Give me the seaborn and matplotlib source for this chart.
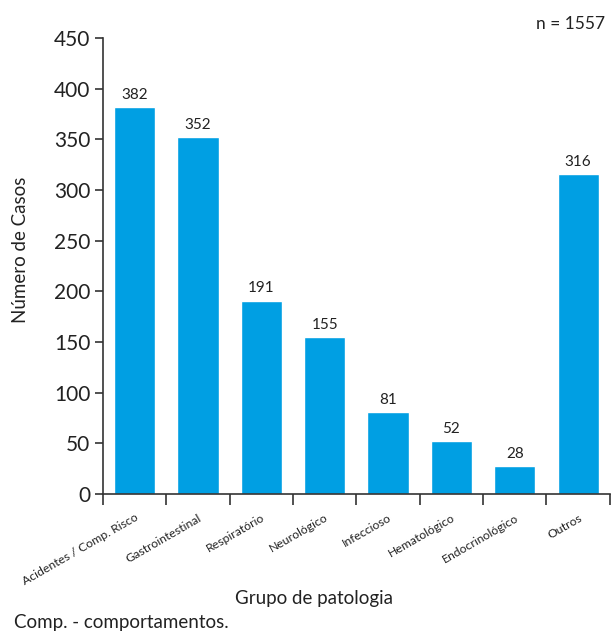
import matplotlib
matplotlib.use("Agg")
import matplotlib.pyplot as plt
import seaborn as sns
import pandas as pd
import numpy as np

categories = ["Acidentes / Comp. Risco", "Gastrointestinal", "Respiratório", "Neurológico",
              "Infeccioso", "Hematológico", "Endocrinológico", "Outros"]
cases = [382, 352, 191, 155, 81, 52, 28, 316]
y_ticks = [0, 50, 100, 150, 200, 250, 300, 350, 400, 450]

sns.set_style("white")
plt.rcParams["font.family"] = ["Lato", "DejaVu Sans"]

df = pd.DataFrame({"grupo": categories, "casos": cases})

fig = plt.figure(figsize=(6.16, 6.35), dpi=100)
ax = fig.add_axes([0.167, 0.222, 0.823, 0.718])

bar_color = "#009FE3"
sns.barplot(data=df, x="grupo", y="casos", color=bar_color, saturation=1,
            width=0.65, ax=ax)

for i, v in enumerate(cases):
    ax.text(i, v + 5, str(v), ha="center", va="bottom", fontsize=11, color="#222222")

ax.set_ylim(0, 450)
ax.set_xlim(-0.5, len(categories) - 0.5)
ax.set_yticks(y_ticks)
ax.tick_params(axis="y", labelsize=15, length=6, width=1.2, color="#333333",
               labelcolor="#222222", direction="out", left=True, pad=3)

# category labels at bar centres, tick marks at the boundaries
ax.set_xticks(np.arange(len(categories)))
ax.set_xticklabels(categories, rotation=30, ha="right", rotation_mode="anchor",
                   fontsize=8.8, color="#222222")
ax.tick_params(axis="x", which="major", length=0, pad=13)
ax.set_xticks(np.arange(len(categories) + 1) - 0.5, minor=True)
ax.tick_params(axis="x", which="minor", length=8, width=1.2, color="#333333",
               direction="out", bottom=True)

for side in ["top", "right"]:
    ax.spines[side].set_visible(False)
for side in ["left", "bottom"]:
    ax.spines[side].set_color("#333333")
    ax.spines[side].set_linewidth(1.2)

ax.set_ylabel("Número de Casos", fontsize=13.5, color="#222222")
ax.set_xlabel("Grupo de patologia", fontsize=13.5, color="#222222")
ax.yaxis.set_label_coords(-0.145, 0.535)
ax.xaxis.set_label_coords(0.417, -0.21)

fig.text(0.983, 0.962, "n = 1557", ha="right", va="center", fontsize=12.5, color="#222222")
fig.text(0.022, 0.006, "Comp. - comportamentos.", ha="left", va="bottom",
         fontsize=13.5, color="#222222")

fig.savefig("out.png", dpi=100)
